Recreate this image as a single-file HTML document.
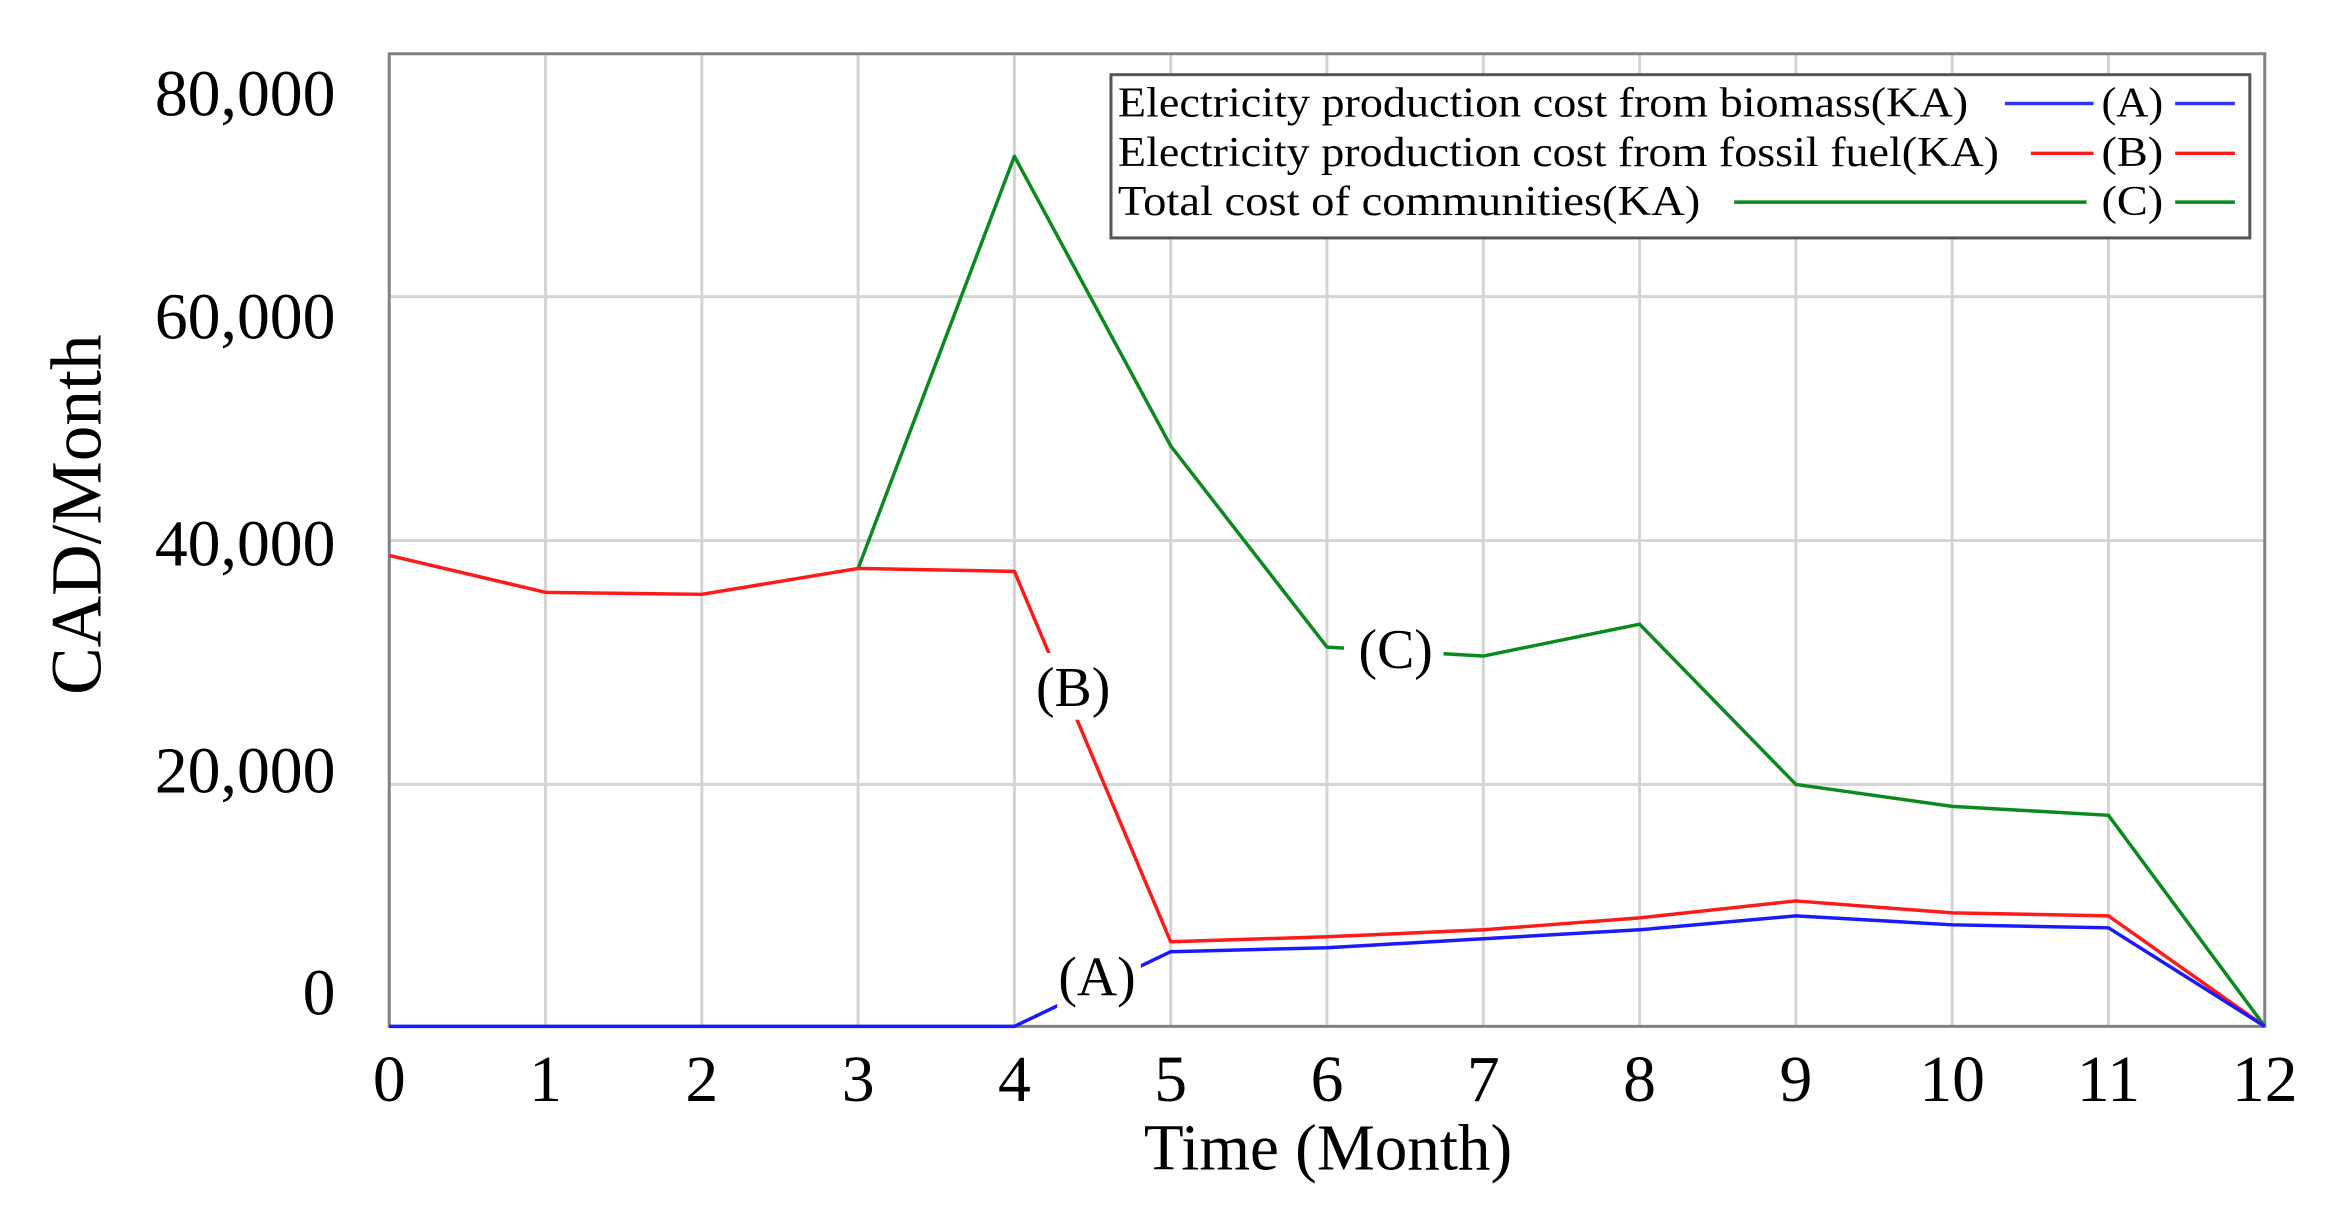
<!DOCTYPE html>
<html><head><meta charset="utf-8"><style>
html,body{margin:0;padding:0;background:#fff;}
svg{display:block;}
text{font-family:"Liberation Serif",serif;fill:#000;}
</style></head><body>
<svg width="2327" height="1225" viewBox="0 0 2327 1225" xmlns="http://www.w3.org/2000/svg">
<g transform="scale(0.9955)">
<g stroke="#d4d4d4" stroke-width="3">
<line x1="548" y1="54" x2="548" y2="1031"/><line x1="705" y1="54" x2="705" y2="1031"/>
<line x1="862" y1="54" x2="862" y2="1031"/><line x1="1019" y1="54" x2="1019" y2="1031"/>
<line x1="1176" y1="54" x2="1176" y2="1031"/><line x1="1333" y1="54" x2="1333" y2="1031"/>
<line x1="1490" y1="54" x2="1490" y2="1031"/><line x1="1647" y1="54" x2="1647" y2="1031"/>
<line x1="1804" y1="54" x2="1804" y2="1031"/><line x1="1961" y1="54" x2="1961" y2="1031"/>
<line x1="2118" y1="54" x2="2118" y2="1031"/>
<line x1="391" y1="298" x2="2275" y2="298"/><line x1="391" y1="543" x2="2275" y2="543"/>
<line x1="391" y1="788" x2="2275" y2="788"/>
</g>
<rect x="391" y="54" width="1884" height="977" fill="none" stroke="#808080" stroke-width="3"/>
<g fill="none" stroke-width="3.5" stroke-linejoin="round">
<polyline stroke="#0a8a1e" points="862,571 1019,157 1176,448 1333,650 1490,659 1647,627 1804,788 1961,810 2118,819 2275,1031"/>
<polyline stroke="#ff1a1a" points="391,558 548,595 705,597 862,571 1019,574 1176,946 1333,941 1490,934 1647,922 1804,905 1961,917 2118,920 2275,1031"/>
<polyline stroke="#1a1aff" points="391,1031 1019,1031 1176,956 1333,952 1490,943 1647,934 1804,920 1961,929 2118,932 2275,1031"/>
</g>
<g fill="#fff">
<rect x="1040" y="656" width="76" height="67"/>
<rect x="1350" y="615" width="100" height="75"/>
<rect x="1062" y="945" width="84" height="70"/>
</g>
<g font-size="56" text-anchor="middle">
<text x="1078" y="709">(B)</text>
<text x="1402" y="671">(C)</text>
<text x="1102" y="1000">(A)</text>
</g>
<g font-size="66" text-anchor="end">
<text x="337" y="116">80,000</text>
<text x="337" y="340">60,000</text>
<text x="337" y="568">40,000</text>
<text x="337" y="796">20,000</text>
<text x="337" y="1019">0</text>
</g>
<g font-size="66" text-anchor="middle">
<text x="391" y="1106">0</text><text x="548" y="1106">1</text><text x="705" y="1106">2</text>
<text x="862" y="1106">3</text><text x="1019" y="1106">4</text><text x="1176" y="1106">5</text>
<text x="1333" y="1106">6</text><text x="1490" y="1106">7</text><text x="1647" y="1106">8</text>
<text x="1804" y="1106">9</text><text x="1961" y="1106">10</text><text x="2118" y="1106">11</text>
<text x="2275" y="1106">12</text>
</g>
<text x="1149" y="1175" font-size="66" textLength="370" lengthAdjust="spacingAndGlyphs">Time (Month)</text>
<text transform="translate(101,698) rotate(-90)" font-size="72" textLength="362" lengthAdjust="spacingAndGlyphs">CAD/Month</text>
<rect x="1116" y="75" width="1144" height="164" fill="#fff" stroke="#555" stroke-width="3"/>
<g font-size="42">
<text x="1123" y="117" textLength="854" lengthAdjust="spacingAndGlyphs">Electricity production cost from biomass(KA)</text>
<text x="1123" y="167" textLength="885" lengthAdjust="spacingAndGlyphs">Electricity production cost from fossil fuel(KA)</text>
<text x="1123" y="216" textLength="585" lengthAdjust="spacingAndGlyphs">Total cost of communities(KA)</text>
<text x="2111" y="117" textLength="62" lengthAdjust="spacingAndGlyphs">(A)</text>
<text x="2111" y="167" textLength="62" lengthAdjust="spacingAndGlyphs">(B)</text>
<text x="2111" y="216" textLength="62" lengthAdjust="spacingAndGlyphs">(C)</text>
</g>
<g stroke-width="3.5">
<line x1="2014" y1="104" x2="2103" y2="104" stroke="#3333ff"/><line x1="2185" y1="104" x2="2245" y2="104" stroke="#3333ff"/>
<line x1="2040" y1="154" x2="2103" y2="154" stroke="#ff1a1a"/><line x1="2185" y1="154" x2="2245" y2="154" stroke="#ff1a1a"/>
<line x1="1742" y1="203" x2="2096" y2="203" stroke="#0a8a1e"/><line x1="2185" y1="203" x2="2245" y2="203" stroke="#0a8a1e"/>
</g>
</g>
</svg>
</body></html>
